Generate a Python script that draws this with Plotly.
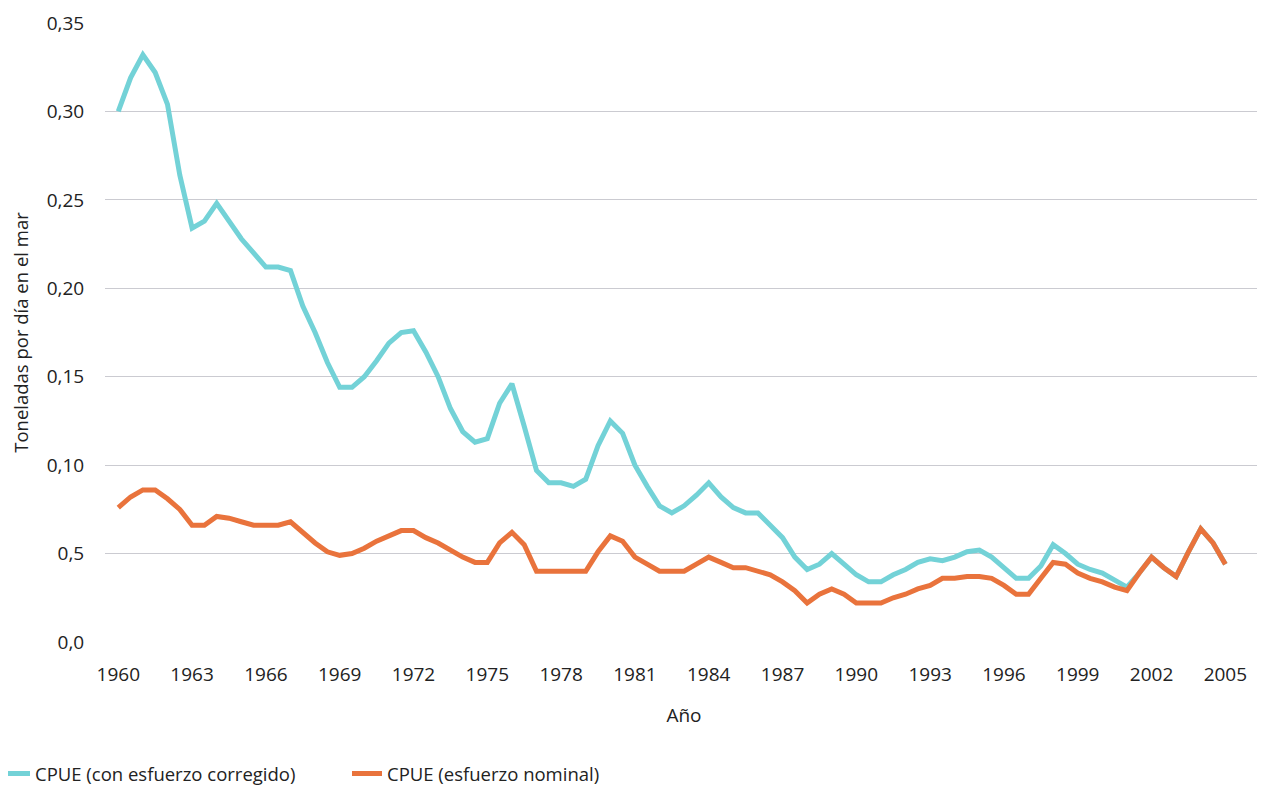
import plotly.graph_objects as go

# Half-year steps from 1960 to 2005
years = [1960 + i / 2 for i in range(91)]

cpue_corregido = [
    0.300, 0.319, 0.332, 0.322, 0.304, 0.264, 0.234, 0.238, 0.248, 0.238,
    0.228, 0.220, 0.212, 0.212, 0.210, 0.190, 0.175, 0.158, 0.144, 0.144,
    0.150, 0.159, 0.169, 0.175, 0.176, 0.164, 0.150, 0.132, 0.119, 0.113,
    0.115, 0.135, 0.146, 0.122, 0.097, 0.090, 0.090, 0.088, 0.092, 0.111,
    0.125, 0.118, 0.100, 0.088, 0.077, 0.073, 0.077, 0.083, 0.090, 0.082,
    0.076, 0.073, 0.073, 0.066, 0.059, 0.048, 0.041, 0.044, 0.050, 0.044,
    0.038, 0.034, 0.034, 0.038, 0.041, 0.045, 0.047, 0.046, 0.048, 0.051,
    0.052, 0.048, 0.042, 0.036, 0.036, 0.043, 0.055, 0.050, 0.044, 0.041,
    0.039, 0.035, 0.031, 0.039, 0.048, 0.042, 0.037, 0.051, 0.064, 0.056,
    0.044,
]

cpue_nominal = [
    0.076, 0.082, 0.086, 0.086, 0.081, 0.075, 0.066, 0.066, 0.071, 0.070,
    0.068, 0.066, 0.066, 0.066, 0.068, 0.062, 0.056, 0.051, 0.049, 0.050,
    0.053, 0.057, 0.060, 0.063, 0.063, 0.059, 0.056, 0.052, 0.048, 0.045,
    0.045, 0.056, 0.062, 0.055, 0.040, 0.040, 0.040, 0.040, 0.040, 0.051,
    0.060, 0.057, 0.048, 0.044, 0.040, 0.040, 0.040, 0.044, 0.048, 0.045,
    0.042, 0.042, 0.040, 0.038, 0.034, 0.029, 0.022, 0.027, 0.030, 0.027,
    0.022, 0.022, 0.022, 0.025, 0.027, 0.030, 0.032, 0.036, 0.036, 0.037,
    0.037, 0.036, 0.032, 0.027, 0.027, 0.036, 0.045, 0.044, 0.039, 0.036,
    0.034, 0.031, 0.029, 0.039, 0.048, 0.042, 0.037, 0.051, 0.064, 0.056,
    0.044,
]

x_ticks = list(range(1960, 2006, 3))
y_ticks = [0, 0.05, 0.10, 0.15, 0.20, 0.25, 0.30, 0.35]
y_labels = ['0,0', '0,5', '0,10', '0,15', '0,20', '0,25', '0,30', '0,35']

font_family = 'Open Sans'
text_color = '#222222'

fig = go.Figure()
fig.add_trace(go.Scatter(x=years, y=cpue_corregido, mode='lines',
                         name='CPUE (con esfuerzo corregido)',
                         line=dict(color='#73D2D7', width=5)))
fig.add_trace(go.Scatter(x=years, y=cpue_nominal, mode='lines',
                         name='CPUE (esfuerzo nominal)',
                         line=dict(color='#E9733C', width=5)))

# page body adds an 8px margin, so the figure is a little smaller than the window
fig.update_layout(
    width=1257,
    height=777,
    margin=dict(l=97, r=2, t=15, b=143, autoexpand=False),
    plot_bgcolor='white',
    paper_bgcolor='white',
    font=dict(family=font_family, size=19, color=text_color),
    xaxis=dict(
        range=[1959.46, 2006.53],
        tickvals=x_ticks,
        showgrid=False,
        zeroline=False,
        showline=False,
        automargin=False,
        ticks='outside', ticklen=15, tickcolor='rgba(0,0,0,0)',
        tickfont=dict(size=19),
        title=dict(text='Año', standoff=22, font=dict(size=19)),
    ),
    yaxis=dict(
        range=[0, 0.35],
        tickvals=y_ticks,
        ticktext=y_labels,
        showgrid=True, gridcolor='#CBCBD1', gridwidth=1,
        zeroline=False,
        showline=False,
        automargin=False,
        ticks='outside', ticklen=16, tickcolor='rgba(0,0,0,0)',
        tickfont=dict(size=19),
        title=dict(text='Toneladas por día en el mar', standoff=23,
                   font=dict(size=18.5)),
    ),
    legend=dict(
        orientation='h',
        xref='container', yref='container',
        x=0, y=30 / 777,
        xanchor='left', yanchor='top',
        indentation=-13,
        font=dict(size=18.5),
        entrywidth=320, entrywidthmode='pixels',
        itemwidth=30,
    ),
    showlegend=True,
)

fig.write_html("out.html")
